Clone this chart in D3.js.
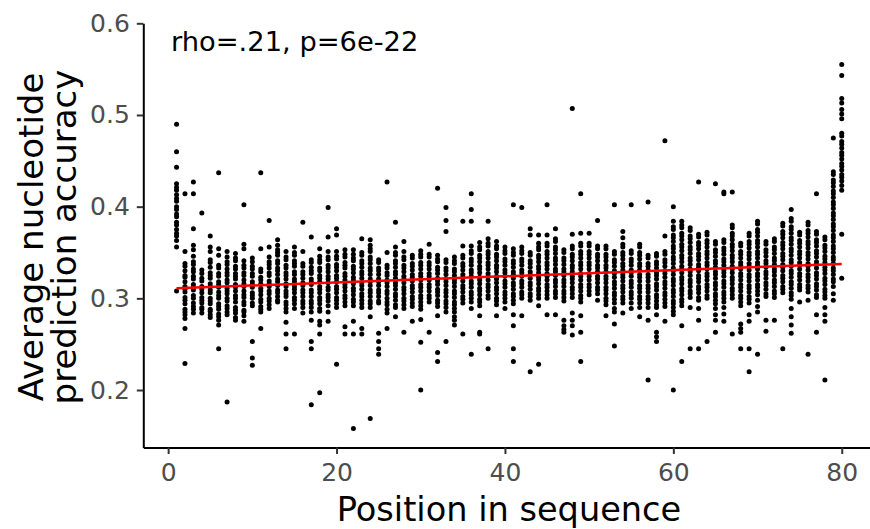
<!DOCTYPE html>
<html>
<head>
<meta charset="utf-8">
<script src="https://cdn.jsdelivr.net/npm/d3@7"></script>
<style>
  body { margin: 0; background: #fff; }
  svg { display: block; font-family: "DejaVu Sans", sans-serif; }
</style>
</head>
<body>
<div id="chart"></div>
<script>
// accuracy per position (values in thousandths)
const positions = d3.range(1, 81);
const accuracyByPosition = [
  "490 460 443 425 421 418 413 409 406 400 397 392 389 383 380 375 371 368 363 356 308",
  "414 351 338 335 330 325 323 318 313 310 307 301 298 294 288 285 282 278 267 229",
  "427 414 376 358 353 346 340 337 332 329 324 321 315 312 309 303 300 295 291 288 284",
  "393 331 327 322 319 313 310 306 301 298 295 290 288 284",
  "368 356 351 342 339 334 328 325 322 316 313 309 306 300 297 294 288 286 282 279",
  "437 354 347 336 333 327 324 318 315 312 307 303 300 294 291 288 283 280 276 271 245",
  "351 345 340 337 332 328 325 320 317 311 308 305 300 297 292 289 285 282 187",
  "349 344 341 335 332 327 324 321 315 312 308 303 300 296 290 287 284 279 276",
  "402 359 354 341 336 333 328 325 320 316 313 308 304 301 296 293 287 285 281 275",
  "344 340 335 332 327 324 318 315 312 306 303 300 295 292 253 235 227",
  "437 354 332 329 323 320 316 311 308 304 299 296 291 288 285 267",
  "385 356 345 340 337 333 328 325 319 316 313 308 305 300 297 293 289",
  "364 358 353 350 347 341 338 333 330 326 321 318 314 309 306 302 298 296",
  "351 345 342 336 333 328 325 321 316 313 308 305 302 296 293 289 285 274 261 245",
  "356 350 347 341 338 335 329 326 321 318 313 310 306 301 298 294 289 261",
  "383 351 338 335 329 326 322 317 314 309 306 302 297 294 290 284",
  "367 342 339 334 330 327 321 318 315 309 306 302 297 294 290 285 276 253 245 184",
  "354 346 342 339 333 330 325 322 318 313 310 306 301 298 294 289 286 275 271 261 197",
  "399 367 351 345 342 336 333 329 324 321 317 312 309 304 301 297 292 285 275",
  "376 369 351 346 343 337 334 330 325 322 318 313 310 306 301 298 294 290 228",
  "353 348 345 339 336 333 327 324 320 315 312 308 303 300 296 292 269 261",
  "353 348 344 341 335 332 328 323 320 316 311 308 304 299 296 292 275 261 158",
  "365 350 347 341 338 334 329 326 322 317 314 310 305 302 298 294 290 267 261",
  "364 358 354 351 345 342 338 333 330 326 321 318 314 309 306 302 297 294 290 280 169",
  "342 339 333 330 326 321 318 314 309 306 302 297 295 262 253 245 239",
  "427 350 336 333 328 325 320 317 313 308 305 300 296 293 288 284 267",
  "383 356 350 347 341 338 334 329 326 322 317 314 310 305 302 298 293 290 280",
  "362 351 345 342 336 333 329 324 321 317 312 309 305 300 297 293 289 263",
  "347 344 338 335 331 326 323 319 314 311 307 302 299 295 291 275",
  "352 348 345 339 336 332 327 324 320 315 312 308 303 300 296 292 288 277 252 200",
  "359 348 345 339 336 332 327 324 320 315 312 308 303 300 296 263",
  "420 347 343 340 334 331 327 322 319 315 310 307 303 298 295 291 281 241 231",
  "399 385 373 342 339 333 330 326 321 318 314 309 306 302 297 294 290 285 253",
  "345 341 338 332 329 325 320 317 313 308 305 301 296 293 289 285 280 276 271",
  "384 357 347 344 338 335 331 326 323 319 314 311 307 302 299 295 261",
  "414 397 384 357 352 349 343 340 336 331 328 324 319 316 312 307 304 300 296 289 239",
  "361 356 353 347 344 340 335 332 328 323 320 316 311 308 304 299 296 292 281 263 261",
  "384 365 360 357 351 348 344 339 336 332 327 324 320 315 312 308 303 300 245",
  "362 357 354 348 345 341 336 333 329 324 321 317 312 309 305 300 297 293 281",
  "356 352 349 343 340 336 331 328 324 319 316 312 307 304 300 296 289",
  "402 354 350 347 341 338 334 329 326 322 317 314 310 305 302 298 294 282 270 245 231",
  "399 356 352 349 343 340 336 331 328 324 319 316 312 307 304 300 281",
  "376 369 350 347 341 338 334 329 326 322 317 314 310 305 302 298 220",
  "369 360 356 353 347 344 340 335 332 328 323 320 316 311 308 304 300 292 228",
  "402 369 360 357 351 348 344 339 336 332 327 324 320 315 312 308 304 300 282",
  "376 365 362 356 353 349 344 341 337 332 329 325 320 317 313 308 305 301 282",
  "353 350 344 341 337 332 329 325 320 317 313 308 305 301 297 276 270 266 263",
  "507 370 357 354 348 345 341 336 333 329 324 321 317 312 309 305 301 284 276 270 260",
  "414 371 360 357 351 348 344 339 336 332 327 324 320 315 312 308 303 300 296 281 263 231",
  "371 360 357 351 348 344 339 336 332 327 324 320 315 312 308 304",
  "385 357 354 348 345 341 336 333 329 324 321 317 312 309 305 298",
  "357 354 348 345 341 336 333 329 324 321 317 312 309 305 300 297 293 281",
  "402 351 348 342 339 335 330 327 323 318 315 311 306 303 299 295 289 285 272 248",
  "373 366 359 356 350 347 343 338 335 331 326 323 319 314 311 307 302 299 295 284",
  "402 352 349 343 340 336 331 328 324 319 316 312 307 304 300 295 289",
  "359 356 350 347 343 338 335 331 326 323 319 314 311 307 302 299 295 290 280",
  "405 347 344 338 335 331 326 323 319 314 311 307 302 299 295 290 276 211",
  "349 346 340 337 333 328 325 321 316 313 309 304 301 297 293 290 282 263 258 253",
  "472 368 351 348 342 339 335 330 327 323 318 315 311 306 303 299 295 291 275",
  "400 384 378 375 369 366 362 357 354 350 345 342 338 333 330 326 321 318 314 309 306 302 297 294 290 286 282 200",
  "384 380 377 371 368 364 359 356 352 347 344 340 335 332 328 323 320 316 311 308 304 299 296 292 270 231",
  "377 374 368 365 361 356 353 349 344 341 337 332 329 325 320 317 313 308 305 301 290 245",
  "427 370 367 361 358 354 349 346 342 337 334 330 325 322 318 313 310 306 301 298 289 276 245",
  "372 369 363 360 356 351 348 344 339 336 332 327 324 320 315 312 308 303 300 253",
  "425 362 359 353 350 346 341 338 334 329 326 322 317 314 310 305 302 298 294 289 282 276 263",
  "416 414 364 361 355 352 348 343 340 336 331 328 324 319 316 312 307 304 300 296 290 283 275",
  "416 380 377 371 368 364 359 356 352 347 344 340 335 332 328 323 320 316 311 308 304 300 261",
  "360 357 351 348 344 339 336 332 327 324 320 315 312 308 303 300 296 292 272 267 263 245",
  "371 368 362 359 355 350 347 343 338 335 331 326 323 319 314 311 307 302 299 295 282 275 245 220",
  "384 381 375 372 368 363 360 356 351 348 344 339 336 332 327 324 320 315 312 308 304 298 291 285 239",
  "362 359 353 350 346 341 338 334 329 326 322 317 314 310 305 302 276 264",
  "365 362 356 353 349 344 341 337 332 329 325 320 317 313 308 305 301 276",
  "382 379 373 370 366 361 358 354 349 346 342 337 334 330 325 322 318 313 310 306 245",
  "397 387 384 378 375 371 366 363 359 354 351 347 342 339 335 330 327 323 318 315 311 306 303 299 289 280 271 262",
  "372 369 363 360 356 351 348 344 339 336 332 327 324 320 315 312 309 296",
  "383 380 374 371 367 362 359 355 350 347 343 338 335 331 326 323 319 314 311 307 298 239",
  "414 373 370 364 361 357 352 349 345 340 337 333 328 325 321 316 313 309 304 301 282 263",
  "367 364 358 355 351 346 343 339 334 331 327 322 319 315 310 307 303 300 290 282 275 211",
  "475 438 435 429 426 422 417 414 410 405 402 398 393 390 386 381 378 374 369 366 362 357 354 350 345 342 338 333 330 326 321 318 313 305 298",
  "555 543 518 513 506 501 496 480 477 471 468 464 459 456 452 447 444 440 435 432 428 423 418 370 322"
];
const xTicks = [0, 20, 40, 60, 80];
const yTicks = [0.2, 0.3, 0.4, 0.5, 0.6];
const trendX = [1, 80];
const trendY = [0.311, 0.3375];
const annotation = "rho=.21, p=6e-22";

const width = 870, height = 529;
const margin = {top: 23.3, right: -5, bottom: 81.5, left: 143.3};

const points = [];
positions.forEach(function(p, i) {
    accuracyByPosition[i].split(" ").forEach(function(v) {
        points.push({x: p, y: +v / 1000});
    });
});

const x = d3.scaleLinear()
    .domain([-2.95, 83.95])
    .range([margin.left, width - margin.right]);

const y = d3.scaleLinear()
    .domain([0.1373, 0.6])
    .range([height - margin.bottom, margin.top]);

const svg = d3.select("#chart").append("svg")
    .attr("width", width)
    .attr("height", height);

svg.append("g")
    .selectAll("circle")
    .data(points)
    .join("circle")
    .attr("cx", d => x(d.x))
    .attr("cy", d => y(d.y))
    .attr("r", 2.5)
    .attr("fill", "black");

svg.append("line")
    .attr("x1", x(trendX[0]))
    .attr("y1", y(trendY[0]))
    .attr("x2", x(trendX[1]))
    .attr("y2", y(trendY[1]))
    .attr("stroke", "red")
    .attr("stroke-width", 2.5);

// axes
const xAxis = svg.append("g")
    .attr("transform", `translate(0,${height - margin.bottom})`)
    .call(d3.axisBottom(x).tickValues(xTicks).tickSize(6.5).tickSizeOuter(0)
        .tickPadding(9).tickFormat(d3.format("d")));

const yAxis = svg.append("g")
    .attr("transform", `translate(${margin.left},0)`)
    .call(d3.axisLeft(y).tickValues(yTicks).tickSize(6.5).tickSizeOuter(0)
        .tickPadding(7).tickFormat(d3.format(".1f")));

[xAxis, yAxis].forEach(function(g) {
    g.select(".domain").attr("stroke", "black").attr("stroke-width", 2);
    g.selectAll(".tick line").attr("stroke", "#333").attr("stroke-width", 2);
    g.selectAll(".tick text")
        .attr("fill", "#4d4d4d")
        .style("font-size", "25px")
        .style("font-family", "DejaVu Sans");
});

svg.append("text")
    .attr("x", 171)
    .attr("y", 51)
    .style("font-size", "27.3px")
    .attr("fill", "black")
    .text(annotation);

svg.append("text")
    .attr("x", 509)
    .attr("y", 521)
    .attr("text-anchor", "middle")
    .style("font-size", "33.6px")
    .text("Position in sequence");

const yTitle = svg.append("text")
    .attr("transform", "translate(0,237) rotate(-90)")
    .attr("text-anchor", "middle")
    .style("font-size", "34px");
yTitle.append("tspan").attr("x", 0).attr("y", 43).text("Average nucleotide");
yTitle.append("tspan").attr("x", 0).attr("y", 76).text("prediction accuracy");
</script>
</body>
</html>
